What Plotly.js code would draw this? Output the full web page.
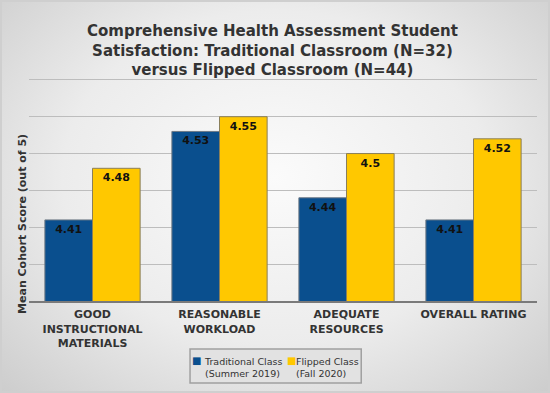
<!DOCTYPE html>
<html>
<head>
<meta charset="utf-8">
<script src="https://cdn.plot.ly/plotly-3.0.1.min.js"></script>
<style>
  html, body { margin: 0; padding: 0; }
  #wrap { width: 550px; height: 393px; box-sizing: border-box; border: 2px solid #cfcfcf;
          background: radial-gradient(ellipse at 50% 45%, #fbfbfb 0%, #ececec 55%, #cdcdcd 100%); }
  #chart { width: 546px; height: 389px; }
</style>
</head>
<body>
<div id="wrap"><div id="chart"></div></div>
<script>
const categories = ["GOOD<br>INSTRUCTIONAL<br>MATERIALS", "REASONABLE<br>WORKLOAD", "ADEQUATE<br>RESOURCES", "OVERALL RATING"];
const traditional = [4.41, 4.53, 4.44, 4.41];
const flipped = [4.48, 4.55, 4.5, 4.52];
const traditionalLabels = ["4.41", "4.53", "4.44", "4.41"];
const flippedLabels = ["4.48", "4.55", "4.5", "4.52"];
const seriesNames = ["Traditional Class<br>(Summer 2019)", "Flipped Class<br>(Fall 2020)"];
const seriesColors = ["#0a4f8e", "#ffc800"];

const font = "DejaVu Sans, Verdana, sans-serif";
const labelFont = {family: font, size: 11, color: "#111", weight: "bold"};

const traces = [
  {type: "bar", x: categories, y: traditional, name: seriesNames[0], text: traditionalLabels,
   textposition: "inside", insidetextanchor: "end", textfont: labelFont, textangle: 0,
   marker: {color: seriesColors[0], line: {color: "#6f7a86", width: 1}}, hoverinfo: "y"},
  {type: "bar", x: categories, y: flipped, name: seriesNames[1], text: flippedLabels,
   textposition: "inside", insidetextanchor: "end", textfont: labelFont, textangle: 0,
   marker: {color: seriesColors[1], line: {color: "#8a7f5a", width: 1}}, hoverinfo: "y"}
];

// legend drawn as annotations (compact, like the reference)
const legendFont = {family: font, size: 9.5, color: "#333"};
const legendSwatchX = [0.3307, 0.5167];
const legendTextX = [0.3411, 0.5222];
const annotations = [
  {text: "Comprehensive Health Assessment Student<br>Satisfaction: Traditional Classroom (N=32)<br>versus Flipped Classroom (N=44)",
   xref: "paper", yref: "paper", x: 0.48, y: 1.262, xanchor: "center", yanchor: "top", showarrow: false,
   font: {family: font, size: 15, color: "#333", weight: "bold"}},
  {text: "Mean Cohort Score (out of 5)", textangle: -90, xref: "paper", yref: "paper",
   x: -0.014, y: 0.345, xanchor: "center", yanchor: "middle", showarrow: false,
   font: {family: font, size: 11, color: "#333", weight: "bold"}}
];
for (let i = 0; i < 2; i++) {
  annotations.push({text: "■", xref: "paper", yref: "paper", x: legendSwatchX[i], y: -0.268,
    xanchor: "center", yanchor: "middle", showarrow: false,
    font: {family: font, size: 10, color: seriesColors[i]}});
  annotations.push({text: seriesNames[i], xref: "paper", yref: "paper", x: legendTextX[i], y: -0.298,
    xanchor: "left", yanchor: "middle", align: "left", showarrow: false, font: legendFont});
}

const layout = {
  width: 546, height: 389,
  paper_bgcolor: "rgba(0,0,0,0)", plot_bgcolor: "rgba(0,0,0,0)",
  margin: {l: 27, r: 11, t: 76, b: 90, autoexpand: false},
  barmode: "group", bargap: 0.25, bargroupgap: 0,
  showlegend: false,
  xaxis: {tickfont: {family: font, size: 11, color: "#333", weight: "bold"}, ticklabelstandoff: 2,
          showline: true, linecolor: "#7a7a7a", linewidth: 2, ticks: "", fixedrange: true},
  yaxis: {range: [4.3, 4.6025], dtick: 0.05, tick0: 4.3, showticklabels: false, ticks: "",
          gridcolor: "#bdbdbd", gridwidth: 1, zeroline: false, fixedrange: true},
  shapes: [{type: "rect", xref: "paper", yref: "paper", x0: 0.317, x1: 0.654, y0: -0.215, y1: -0.368,
            fillcolor: "#e2e2e2", line: {color: "#a0a0a0", width: 1.5}, layer: "below"}],
  annotations: annotations
};

Plotly.newPlot("chart", traces, layout, {displayModeBar: false, staticPlot: true});
</script>
</body>
</html>
